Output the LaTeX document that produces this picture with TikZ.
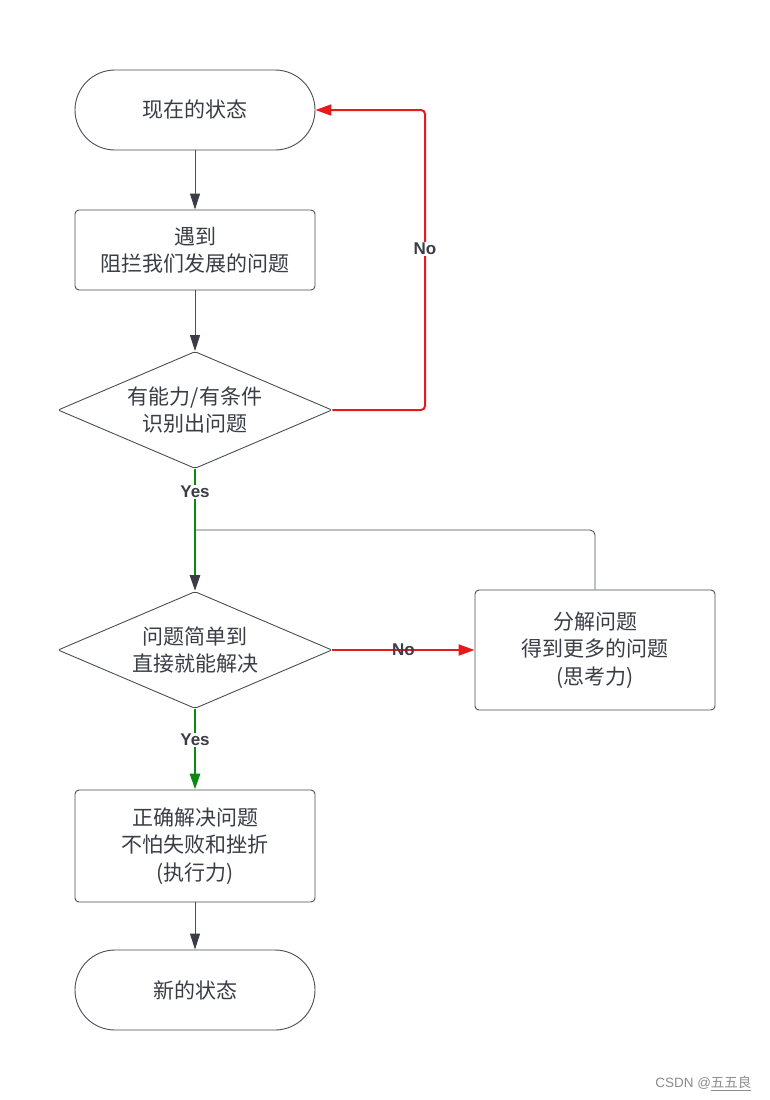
\documentclass[tikz,border=0pt]{standalone}
\usepackage{fontspec}
\setmainfont{Liberation Sans}
\newfontfamily\cjk{Noto Sans CJK SC}
\usetikzlibrary{shapes.geometric,arrows.meta}
\definecolor{ink}{HTML}{3A3D45}
\definecolor{edge}{HTML}{4A4E57}
\definecolor{nored}{HTML}{E41A1C}
\definecolor{yesgreen}{HTML}{0B8A12}
\tikzset{
  txt/.style={font=\cjk\fontsize{21}{27.5}\selectfont, text=ink, align=center},
  terminal/.style={txt, draw=edge, line width=0.9pt, rounded corners=40pt, minimum width=240pt, minimum height=80pt},
  procbox/.style={txt, draw=edge, line width=0.9pt, rounded corners=4pt, minimum width=240pt, inner sep=0pt},
  decision/.style={txt, draw=edge, line width=0.9pt, diamond, shape aspect=2.34, minimum width=274pt, minimum height=117pt, inner sep=0pt, rounded corners=2pt},
  flow/.style={draw=edge, line width=0.9pt, -{Triangle[length=16pt,width=10pt,color=ink]}},
  noline/.style={draw=nored, line width=2pt, rounded corners=4pt},
  yesline/.style={draw=yesgreen, line width=2.8pt},
  lbl/.style={font=\bfseries\fontsize{17}{19}\selectfont, text=ink, fill=white, inner sep=1pt},
  backline/.style={draw=edge, line width=0.9pt, rounded corners=5pt}
}
\begin{document}
\begin{tikzpicture}[x=1pt,y=-1pt]
\useasboundingbox[fill=white] (0,0) rectangle (770,1100);
\node[terminal] (start) at (195,110) {现在的状态};
\node[procbox, minimum height=80pt] (meet) at (195,250) {遇到\\阻拦我们发展的问题};
\node[decision] (d1) at (195,410) {有能力/有条件\\识别出问题};
\node[decision] (d2) at (195,650) {问题简单到\\直接就能解决};
\node[procbox, minimum height=120pt] (split) at (595,650) {分解问题\\得到更多的问题\\(思考力)};
\node[procbox, minimum height=112pt] (solve) at (195,846) {正确解决问题\\不怕失败和挫折\\(执行力)};
\node[terminal] (final) at (195,990) {新的状态};
\coordinate (loopc) at (425,249);
\coordinate (join) at (195,530);
\coordinate (yes1) at (195,492);
\coordinate (yes2) at (195,740);

\draw[flow] (start) -- (meet);
\draw[flow] (meet) -- (d1);
\draw[flow] (solve) -- (final);

\draw[noline, -{Triangle[length=16pt,width=11pt]}] (d1.east) -| (loopc) |- (start.east);
\node[lbl] at (loopc) {No};

\draw[backline] (split.north) |- (join);
\draw[yesline, -{Triangle[length=16pt,width=10pt,color=ink]}] (d1.south) -- (d2.north);
\node[lbl] at (yes1) {Yes};

\draw[noline, -{Triangle[length=16pt,width=11pt]}] (d2.east) -- (split.west) node[lbl, pos=0.5, inner sep=0pt, fill=none] {No};

\draw[yesline, -{Triangle[length=16pt,width=10pt]}] (d2.south) -- (solve.north);
\node[lbl] at (yes2) {Yes};

\node[font=\fontsize{13.5}{15}\selectfont, text=black!45, anchor=east] (mark) at (755,1083) {CSDN @\underline{\cjk 五五良}};
\end{tikzpicture}
\end{document}
